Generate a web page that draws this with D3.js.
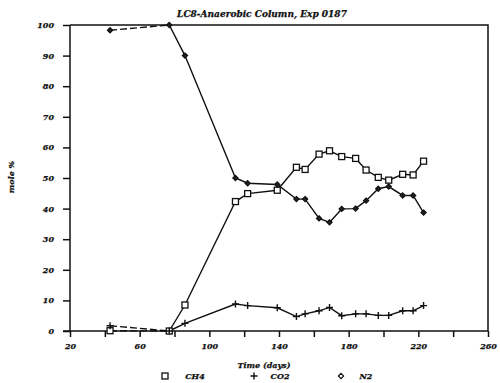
<!DOCTYPE html>
<html>
<head>
<meta charset="utf-8">
<script src="https://cdn.jsdelivr.net/npm/d3@7"></script>
<style>
  body { margin: 0; background: #fff; }
  text { font-family: "DejaVu Serif", serif; font-weight: bold; font-style: italic; fill: #111; stroke: #111; stroke-width: 0.25; }
  .axis path, .axis line { stroke: #111; stroke-width: 1.5; }
  .axis text { font-size: 8px; }
</style>
</head>
<body>
<div id="chart"></div>
<script>
// sampling days
const days = [43, 77, 86, 115, 122, 139, 150, 155, 163, 169, 176, 184, 190, 197, 203, 211, 217, 223];
// mole % per gas
const ch4 = [0.1, 0, 8.5, 42.3, 44.9, 46, 53.5, 52.8, 57.8, 58.9, 57, 56.4, 52.6, 50.2, 49.3, 51.2, 51, 55.5];
const co2 = [1.7, 0, 2.5, 8.8, 8.3, 7.6, 4.7, 5.6, 6.6, 7.7, 5, 5.6, 5.6, 5.1, 5.1, 6.6, 6.6, 8.3];
const n2  = [98.3, 100, 90, 50, 48.3, 47.9, 43.1, 43.1, 36.8, 35.5, 39.9, 40, 42.6, 46.5, 47.2, 44.3, 44.3, 38.7];
const xTicks = [20, 40, 60, 80, 100, 120, 140, 160, 180, 200, 220, 240, 260];
const xLabels = [20, 60, 100, 140, 180, 220, 260];
const yTicks = [0, 10, 20, 30, 40, 50, 60, 70, 80, 90, 100];
const seriesNames = ["CH4", "CO2", "N2"];

let width = 500, height = 383;
let svg = d3.select("#chart").append("svg")
  .attr("width", width)
  .attr("height", height);

let xScale = d3.scaleLinear().domain([20, 260]).range([70, 488]);
let yScale = d3.scaleLinear().domain([0, 100]).range([331, 25]);

//frame top and right
svg.append("path")
  .attr("d", `M ${xScale(20)},${yScale(100)} L ${xScale(260)},${yScale(100)} L ${xScale(260)},${yScale(0)}`)
  .attr("fill", "none").attr("stroke", "#111").attr("stroke-width", 1.5);

//axes
svg.append("g")
  .attr("class", "axis")
  .attr("transform", `translate(${xScale(20)},0)`)
  .call(d3.axisLeft(yScale).tickValues(yTicks).tickSize(7).tickPadding(9).tickSizeOuter(0))
  .call(g => g.select(".domain").attr("d", `M0,${yScale(0)}V${yScale(100)}`));

svg.append("g")
  .attr("class", "axis")
  .attr("transform", `translate(0,${yScale(0)})`)
  .call(d3.axisBottom(xScale).tickValues(xTicks).tickSize(6).tickPadding(6).tickSizeOuter(0)
    .tickFormat(d => xLabels.includes(d) ? d : ""))
  .call(g => g.select(".domain").attr("d", `M${xScale(20) - 7},0H${xScale(260)}`));

//title and axis labels
svg.append("text")
  .attr("x", 262).attr("y", 17)
  .attr("text-anchor", "middle")
  .style("font-size", "9px")
  .text("LC8-Anaerobic Column, Exp 0187");

svg.append("text")
  .attr("transform", "translate(14,177) rotate(-90)")
  .attr("text-anchor", "middle")
  .style("font-size", "8px")
  .text("mole %");

svg.append("text")
  .attr("x", 264).attr("y", 368)
  .attr("text-anchor", "middle")
  .style("font-size", "8px")
  .text("Time (days)");

//series lines
let lineMaker = d3.line().x(d => xScale(d[0])).y(d => yScale(d[1]));
let allSeries = [ch4, co2, n2].map(vals => days.map((d, i) => [d, vals[i]]));

allSeries.forEach(pts => {
  svg.append("path")
    .attr("d", lineMaker(pts.slice(0, 2)))
    .attr("fill", "none").attr("stroke", "#111").attr("stroke-width", 1.4)
    .attr("stroke-dasharray", "7 3");
  svg.append("path")
    .attr("d", lineMaker(pts.slice(1)))
    .attr("fill", "none").attr("stroke", "#111").attr("stroke-width", 1.4);
});

//markers
let square = (g, x, y) => g.append("rect")
  .attr("x", x - 3).attr("y", y - 3).attr("width", 6).attr("height", 6)
  .attr("fill", "#fff").attr("stroke", "#111").attr("stroke-width", 1.3);
let plus = (g, x, y) => g.append("path")
  .attr("d", `M ${x - 3.5},${y} L ${x + 3.5},${y} M ${x},${y - 3.5} L ${x},${y + 3.5}`)
  .attr("stroke", "#111").attr("stroke-width", 1.4);
let diamond = (g, x, y, fill) => g.append("path")
  .attr("d", `M ${x},${y - 2.6} L ${x + 2.6},${y} L ${x},${y + 2.6} L ${x - 2.6},${y} Z`)
  .attr("fill", fill).attr("stroke", "#111").attr("stroke-width", 1.2);

let marks = svg.append("g");
allSeries[0].forEach(d => square(marks, xScale(d[0]), yScale(d[1])));
allSeries[1].forEach(d => plus(marks, xScale(d[0]), yScale(d[1])));
allSeries[2].forEach(d => diamond(marks, xScale(d[0]), yScale(d[1]), "#222"));

//legend
let legend = svg.append("g");
let legendX = [165, 254, 341];
let legendTextX = [195, 280, 366];
square(legend, legendX[0], 376);
plus(legend, legendX[1], 376);
diamond(legend, legendX[2], 376, "#fff");
legend.selectAll("text").data(seriesNames).enter()
  .append("text")
  .attr("x", (d, i) => legendTextX[i])
  .attr("y", 379)
  .attr("text-anchor", "middle")
  .style("font-size", "8px")
  .text(d => d);
</script>
</body>
</html>
